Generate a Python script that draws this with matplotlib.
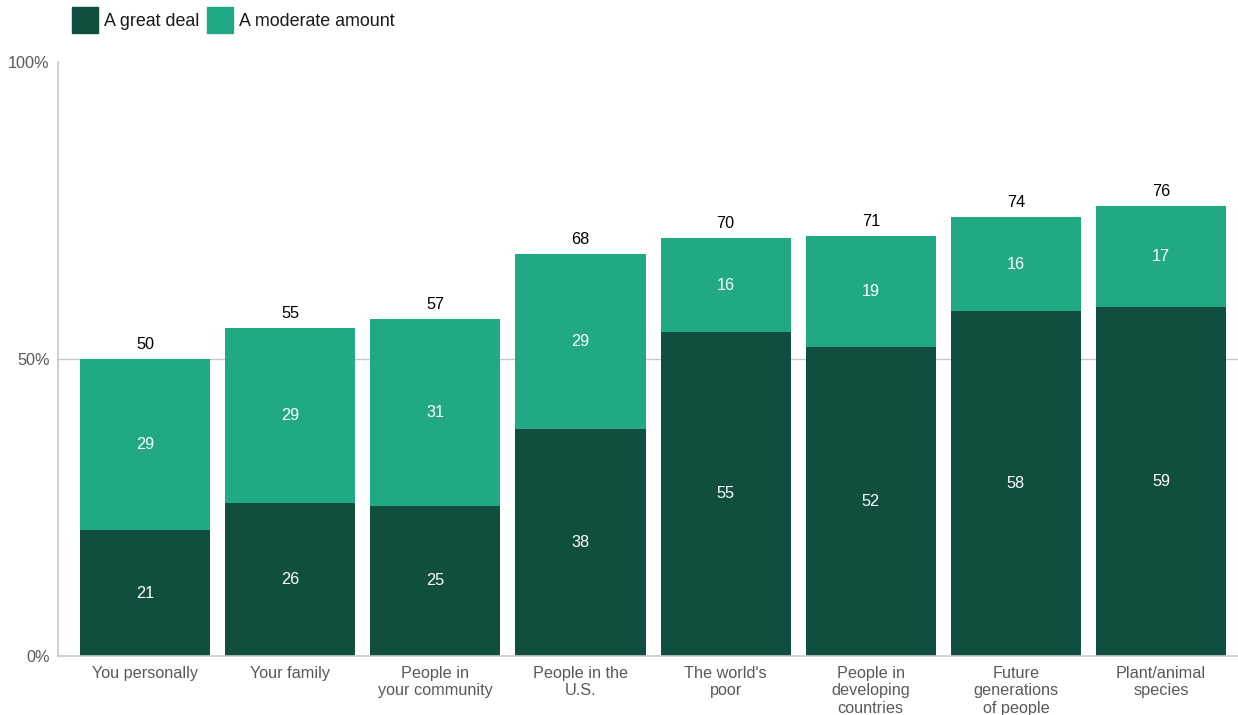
import matplotlib
matplotlib.use("Agg")
import matplotlib.pyplot as plt
from matplotlib.patches import Rectangle

plt.rcParams['font.family'] = ['Liberation Sans', 'DejaVu Sans']

categories = ["You personally", "Your family", "People in\nyour community", "People in the\nU.S.",
              "The world's\npoor", "People in\ndeveloping\ncountries", "Future\ngenerations\nof people",
              "Plant/animal\nspecies"]
# segment values as drawn (unrounded)
great_deal = [21.2, 25.7, 25.3, 38.2, 54.6, 52.1, 58.0, 58.8]
moderate = [28.8, 29.5, 31.4, 29.4, 15.7, 18.6, 15.9, 17.0]
# labels as printed
great_deal_labels = [21, 26, 25, 38, 55, 52, 58, 59]
moderate_labels = [29, 29, 31, 29, 16, 19, 16, 17]
total_labels = [50, 55, 57, 68, 70, 71, 74, 76]
series_names = ["A great deal", "A moderate amount"]
yticks = [0, 50, 100]
ytick_labels = ["0%", "50%", "100%"]

dark = "#104f40"
light = "#21a985"

W, H = 1238, 715
fig = plt.figure(figsize=(W/100, H/100), dpi=100)
ax = fig.add_axes([58/W, (H-656)/H, (1238-58)/W, (656-62)/H])

x = list(range(len(categories)))
bw = 0.896
ax.bar(x, great_deal, width=bw, color=dark, zorder=3)
ax.bar(x, moderate, width=bw, bottom=great_deal, color=light, zorder=3)

fs = 11.7
for i in x:
    top = great_deal[i] + moderate[i]
    ax.text(i, great_deal[i]/2, str(great_deal_labels[i]), ha='center', va='center', color='white', fontsize=fs, zorder=4)
    ax.text(i, great_deal[i] + moderate[i]/2, str(moderate_labels[i]), ha='center', va='center', color='white', fontsize=fs, zorder=4)
    ax.text(i, top + 1.2, str(total_labels[i]), ha='center', va='bottom', color='black', fontsize=fs, zorder=4)

ax.set_xlim(-0.6, 7.53)
ax.set_ylim(0, 100)
ax.set_yticks(yticks)
ax.set_yticklabels(ytick_labels, color="#595959", fontsize=11.7)
ax.set_xticks(x)
ax.set_xticklabels(categories, color="#595959", fontsize=11.7, linespacing=1.2, va='top')
ax.tick_params(axis='both', length=0)
ax.tick_params(axis='x', pad=7)
ax.tick_params(axis='y', pad=6)
ax.axhline(50, color="#c8c8c8", lw=1, zorder=1)
for s in ['top', 'right']:
    ax.spines[s].set_visible(False)
for s in ['left', 'bottom']:
    ax.spines[s].set_color("#c8c8c8")
    ax.spines[s].set_linewidth(1.2)
ax.spines['bottom'].set_zorder(5)

# legend
colors = [dark, light]
lx = [72, 207]
for name, c, px in zip(series_names, colors, lx):
    fig.patches.append(Rectangle((px/W, (H-33)/H), 26/W, 26/H, transform=fig.transFigure, color=c))
    fig.text((px+32)/W, (H-21)/H, name, ha='left', va='center', fontsize=12.9, color="#1a1a1a")

fig.savefig("out.png", dpi=100)
